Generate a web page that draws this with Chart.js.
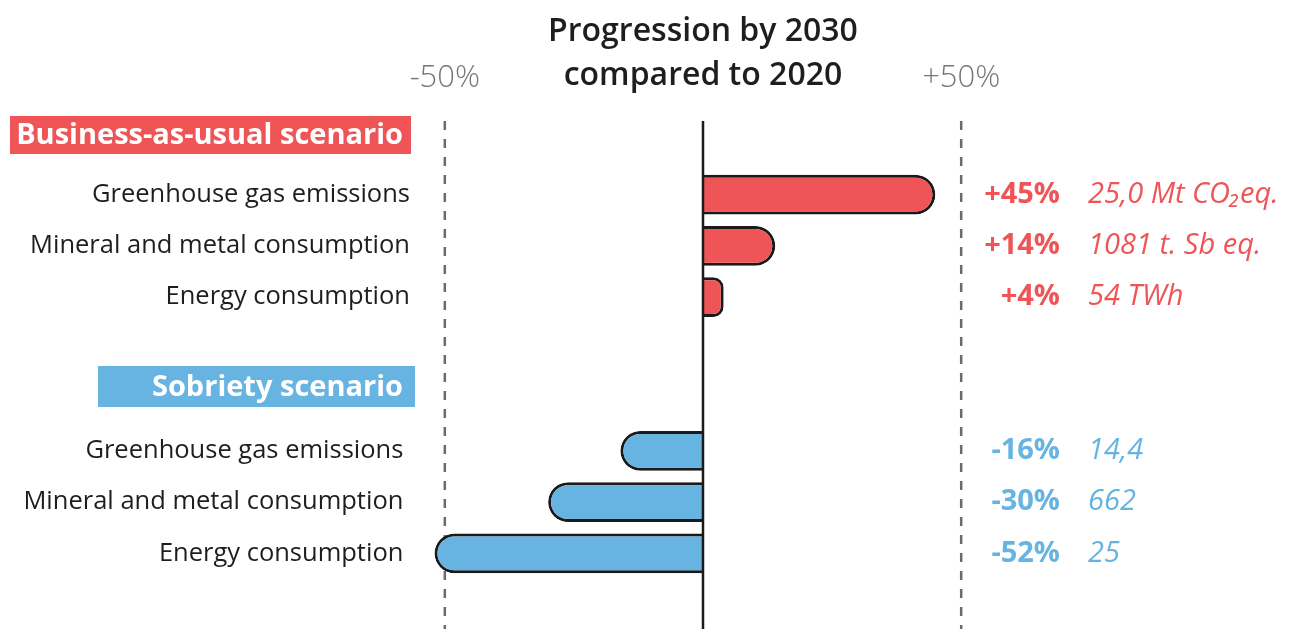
<!DOCTYPE html>
<html>
<head>
<meta charset="utf-8">
<script src="https://cdn.jsdelivr.net/npm/chart.js@4"></script>
<style>
  html, body { margin: 0; padding: 0; background: #fff; }
  #wrap { width: 1294px; height: 629px; position: relative; }
</style>
</head>
<body>
<div id="wrap"><canvas id="progressionChart"></canvas></div>
<script>
// Data
const categories = ["Greenhouse gas emissions", "Mineral and metal consumption", "Energy consumption"];
const bauChange = [45, 14, 4];
const sobrietyChange = [-16, -30, -52];
const bauValues = ["25,0 Mt CO₂eq.", "1081 t. Sb eq.", "54 TWh"];
const sobrietyValues = ["14,4", "662", "25"];
const xTicks = [-50, 50];
const groupTitles = ["Business-as-usual scenario", "Sobriety scenario"];

const RED = "#ef5557";
const BLUE = "#67b3e1";
const FONT = "'Open Sans', 'Noto Sans', sans-serif";

// rows: 3 BAU bars, 2 empty rows, 3 sobriety bars
const labels = [...categories, "", "", ...categories.map((c) => c + " ")];
const values = [...bauChange, null, null, ...sobrietyChange];
const pctLabels = [...bauChange.map((v) => "+" + v + "%"), "", "", ...sobrietyChange.map((v) => v + "%")];
const unitLabels = [...bauValues, "", "", ...sobrietyValues];

// Overlay: title, axis ticks, reference lines, group headers, value labels
const overlay = {
  id: "overlay",
  beforeDatasetsDraw(chart) {
    const ctx = chart.ctx;
    const x = chart.scales.x;
    ctx.save();
    // dashed lines at +/-50%
    ctx.strokeStyle = "#6b6b6b";
    ctx.lineWidth = 2.5;
    ctx.setLineDash([9, 9]);
    xTicks.forEach((v) => {
      const px = x.getPixelForValue(v);
      ctx.beginPath();
      ctx.moveTo(px, 121);
      ctx.lineTo(px, chart.height);
      ctx.stroke();
    });
    ctx.restore();
  },
  afterDatasetsDraw(chart) {
    const ctx = chart.ctx;
    const x = chart.scales.x;
    const y = chart.scales.y;
    const area = chart.chartArea;
    ctx.save();

    // zero line
    const x0 = x.getPixelForValue(0);
    ctx.strokeStyle = "#1a1a1a";
    ctx.lineWidth = 2.5;
    ctx.beginPath();
    ctx.moveTo(x0, 121);
    ctx.lineTo(x0, chart.height);
    ctx.stroke();

    // title
    ctx.fillStyle = "#1e1e1e";
    ctx.font = "600 32px " + FONT;
    ctx.textAlign = "center";
    ctx.textBaseline = "middle";
    ctx.fillText("Progression by 2030", x0, 32);
    ctx.fillText("compared to 2020", x0, 76);

    // x tick labels
    ctx.fillStyle = "#777";
    ctx.font = "300 31px " + FONT;
    xTicks.forEach((v) => {
      ctx.fillText((v > 0 ? "+" : "") + v + "%", x.getPixelForValue(v), 78);
    });

    // group headers
    const headers = [
      { text: groupTitles[0], color: RED, left: 10, right: 411, top: 116, bottom: 154 },
      { text: groupTitles[1], color: BLUE, left: 98, right: 415, top: 366, bottom: 407 }
    ];
    ctx.font = "700 29px " + FONT;
    ctx.textAlign = "right";
    headers.forEach((h) => {
      ctx.fillStyle = h.color;
      ctx.fillRect(h.left, h.top, h.right - h.left, h.bottom - h.top);
      ctx.fillStyle = "#fff";
      ctx.fillText(h.text, 403, (h.top + h.bottom) / 2 + 1);
    });

    // value labels
    labels.forEach((l, i) => {
      if (values[i] === null) return;
      const py = y.getPixelForValue(i);
      ctx.fillStyle = values[i] > 0 ? RED : BLUE;
      ctx.textAlign = "right";
      ctx.font = "700 29px " + FONT;
      ctx.fillText(pctLabels[i], area.right + 73, py);
      ctx.textAlign = "left";
      ctx.font = "italic 400 29px " + FONT;
      ctx.fillText(unitLabels[i], area.right + 101, py);
    });
    ctx.restore();
  }
};

const ctx = document.getElementById("progressionChart").getContext("2d");
const chart = new Chart(ctx, {
  type: "bar",
  data: {
    labels: labels,
    datasets: [
      {
        data: values,
        backgroundColor: (c) => (c.raw > 0 ? RED : BLUE),
        borderColor: "#1a1a1a",
        borderWidth: 3,
        borderRadius: 20,
        borderSkipped: "start",
        barPercentage: 0.78,
        categoryPercentage: 1
      }
    ]
  },
  options: {
    indexAxis: "y",
    responsive: true,
    maintainAspectRatio: false,
    animation: false,
    layout: {
      padding: { top: 169, bottom: 50, left: 0, right: 307 }
    },
    plugins: {
      legend: { display: false },
      tooltip: { enabled: false }
    },
    scales: {
      x: {
        display: false,
        min: -55,
        max: 55
      },
      y: {
        afterFit: function (scale) {
          scale.width = 419;
        },
        grid: { display: false, drawTicks: false },
        border: { display: false },
        ticks: {
          padding: 9,
          color: "#1e1e1e",
          font: { family: FONT, size: 25.5, weight: 400 }
        }
      }
    }
  },
  plugins: [overlay]
});
</script>
</body>
</html>
